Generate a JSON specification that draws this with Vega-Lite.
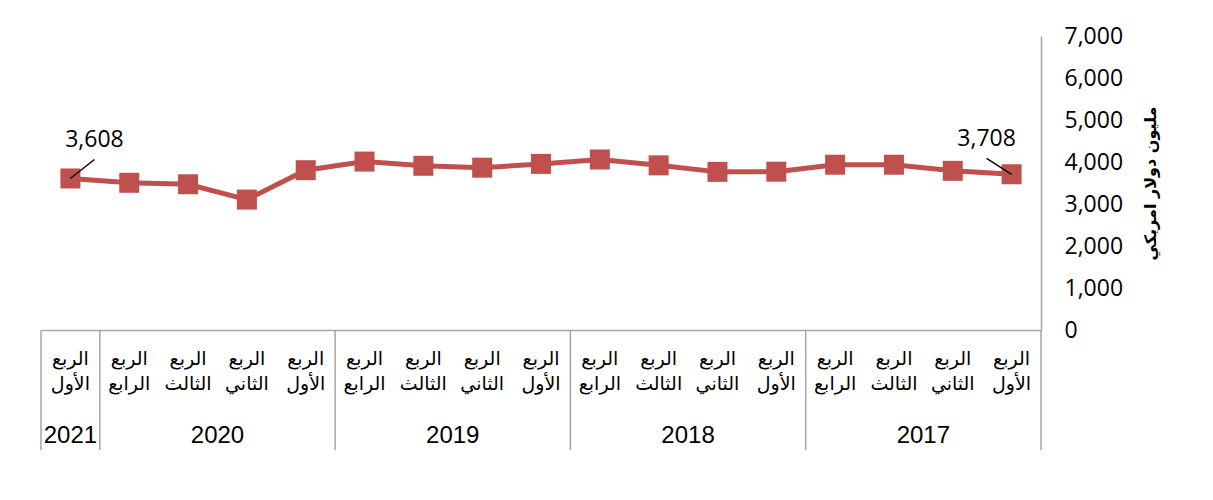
{
  "$schema": "https://vega.github.io/schema/vega-lite/v6.json",
  "background": "white",
  "padding": {"left": 40, "top": 25, "right": 5, "bottom": 5},
  "config": {"view": {"stroke": null}},
  "spacing": 0,
  "bounds": "flush",
  "datasets": {
    "q": [
      {"key": "2021-1", "year": "2021", "quarter": "الربع\nالأول", "value": 3608},
      {"key": "2020-4", "year": "2020", "quarter": "الربع\nالرابع", "value": 3505},
      {"key": "2020-3", "year": "2020", "quarter": "الربع\nالثالث", "value": 3470},
      {"key": "2020-2", "year": "2020", "quarter": "الربع\nالثاني", "value": 3105},
      {"key": "2020-1", "year": "2020", "quarter": "الربع\nالأول", "value": 3805},
      {"key": "2019-4", "year": "2019", "quarter": "الربع\nالرابع", "value": 4010},
      {"key": "2019-3", "year": "2019", "quarter": "الربع\nالثالث", "value": 3910},
      {"key": "2019-2", "year": "2019", "quarter": "الربع\nالثاني", "value": 3865},
      {"key": "2019-1", "year": "2019", "quarter": "الربع\nالأول", "value": 3955},
      {"key": "2018-4", "year": "2018", "quarter": "الربع\nالرابع", "value": 4060},
      {"key": "2018-3", "year": "2018", "quarter": "الربع\nالثالث", "value": 3920},
      {"key": "2018-2", "year": "2018", "quarter": "الربع\nالثاني", "value": 3765},
      {"key": "2018-1", "year": "2018", "quarter": "الربع\nالأول", "value": 3770},
      {"key": "2017-4", "year": "2017", "quarter": "الربع\nالرابع", "value": 3935},
      {"key": "2017-3", "year": "2017", "quarter": "الربع\nالثالث", "value": 3935},
      {"key": "2017-2", "year": "2017", "quarter": "الربع\nالثاني", "value": 3790},
      {"key": "2017-1", "year": "2017", "quarter": "الربع\nالأول", "value": 3708}
    ],
    "years": [
      {"year": "2021", "first": "2021-1", "last": "2021-1", "mid": "2021-1"},
      {"year": "2020", "first": "2020-1", "last": "2020-4", "mid": "2020-2"},
      {"year": "2019", "first": "2019-1", "last": "2019-4", "mid": "2019-2"},
      {"year": "2018", "first": "2018-1", "last": "2018-4", "mid": "2018-2"},
      {"year": "2017", "first": "2017-1", "last": "2017-4", "mid": "2017-2"}
    ]
  },
  "vconcat": [
    {
      "width": 1000,
      "height": 294,
      "data": {"name": "q"},
      "encoding": {
        "x": {
          "field": "key",
          "type": "nominal",
          "scale": {
            "type": "band",
            "paddingInner": 0,
            "paddingOuter": 0,
            "domain": ["2021-1", "2020-4", "2020-3", "2020-2", "2020-1", "2019-4", "2019-3", "2019-2", "2019-1", "2018-4", "2018-3", "2018-2", "2018-1", "2017-4", "2017-3", "2017-2", "2017-1"]
          },
          "axis": {"labels": false, "ticks": false, "title": null, "domainColor": "#a6a6a6", "domainWidth": 1.5}
        },
        "y": {
          "field": "value",
          "type": "quantitative",
          "scale": {"domain": [0, 7000]},
          "axis": {
            "orient": "right",
            "values": [0, 1000, 2000, 3000, 4000, 5000, 6000, 7000],
            "format": ",.0f",
            "grid": false,
            "ticks": false,
            "domainColor": "#a6a6a6",
            "domainWidth": 1.5,
            "labelFont": "Open Sans",
            "labelFontSize": 23,
            "labelColor": "black",
            "labelPadding": 23,
            "title": "مليون دولار امريكي",
            "titleFont": "DejaVu Sans",
            "titleFontSize": 16,
            "titleFontWeight": "bold",
            "titleColor": "black",
            "titleAngle": 270,
            "titlePadding": 36
          }
        }
      },
      "layer": [
        {"mark": {"type": "line", "color": "#C0504D", "strokeWidth": 5}},
        {"mark": {"type": "point", "shape": "square", "filled": true, "size": 400, "color": "#C0504D", "opacity": 1}},
        {
          "transform": [{"filter": "datum.key == '2021-1'"}],
          "mark": {"type": "rule", "color": "black", "strokeWidth": 1.5, "x2Offset": 24, "y2Offset": -19},
          "encoding": {"x2": {"field": "key"}, "y2": {"field": "value"}}
        },
        {
          "transform": [{"filter": "datum.key == '2017-1'"}],
          "mark": {"type": "rule", "color": "black", "strokeWidth": 1.5, "x2Offset": -25, "y2Offset": -16},
          "encoding": {"x2": {"field": "key"}, "y2": {"field": "value"}}
        },
        {
          "transform": [{"filter": "datum.key == '2021-1'"}],
          "mark": {"type": "text", "font": "Open Sans", "fontSize": 23, "dx": 24, "dy": -38, "baseline": "middle", "align": "center", "color": "black"},
          "encoding": {"text": {"field": "value", "type": "quantitative", "format": ",.0f"}}
        },
        {
          "transform": [{"filter": "datum.key == '2017-1'"}],
          "mark": {"type": "text", "font": "Open Sans", "fontSize": 23, "dx": -25, "dy": -35, "baseline": "middle", "align": "center", "color": "black"},
          "encoding": {"text": {"field": "value", "type": "quantitative", "format": ",.0f"}}
        }
      ]
    },
    {
      "width": 1000,
      "height": 120,
      "encoding": {
        "y": {"datum": "quarter", "type": "ordinal", "scale": {"type": "point", "padding": 0, "domain": ["quarter", "year"], "range": [29, 106]}, "axis": null}
      },
      "layer": [
        {
          "data": {"name": "q"},
          "mark": {"type": "text", "lineBreak": "\n", "font": "DejaVu Sans", "fontSize": 19, "lineHeight": 25, "baseline": "middle", "align": "center", "color": "black"},
          "encoding": {
            "x": {"field": "key", "type": "nominal", "scale": {"type": "band", "paddingInner": 0, "paddingOuter": 0, "domain": ["2021-1", "2020-4", "2020-3", "2020-2", "2020-1", "2019-4", "2019-3", "2019-2", "2019-1", "2018-4", "2018-3", "2018-2", "2018-1", "2017-4", "2017-3", "2017-2", "2017-1"]}, "axis": null},
            "text": {"field": "quarter"}
          }
        },
        {
          "data": {"name": "years"},
          "transform": [{"filter": "datum.year != '2021'"}],
          "mark": {"type": "text", "font": "Liberation Sans", "fontSize": 24, "baseline": "middle", "align": "center", "color": "black"},
          "encoding": {
            "x": {"field": "mid", "type": "nominal", "bandPosition": 0, "axis": null},
            "y": {"datum": "year", "type": "ordinal"},
            "text": {"field": "year"}
          }
        },
        {
          "data": {"name": "years"},
          "transform": [{"filter": "datum.year == '2021'"}],
          "mark": {"type": "text", "font": "Liberation Sans", "fontSize": 24, "baseline": "middle", "align": "center", "color": "black"},
          "encoding": {
            "x": {"field": "mid", "type": "nominal", "bandPosition": 0.5, "axis": null},
            "y": {"datum": "year", "type": "ordinal"},
            "text": {"field": "year"}
          }
        },
        {
          "data": {"name": "years"},
          "mark": {"type": "rule", "color": "#a6a6a6", "strokeWidth": 1.5},
          "encoding": {
            "x": {"field": "last", "type": "nominal", "bandPosition": 0, "axis": null},
            "y": null
          }
        },
        {
          "data": {"name": "years"},
          "transform": [{"filter": "datum.year == '2017'"}],
          "mark": {"type": "rule", "color": "#a6a6a6", "strokeWidth": 1.5},
          "encoding": {
            "x": {"field": "first", "type": "nominal", "bandPosition": 1, "axis": null},
            "y": null
          }
        }
      ]
    }
  ]
}
